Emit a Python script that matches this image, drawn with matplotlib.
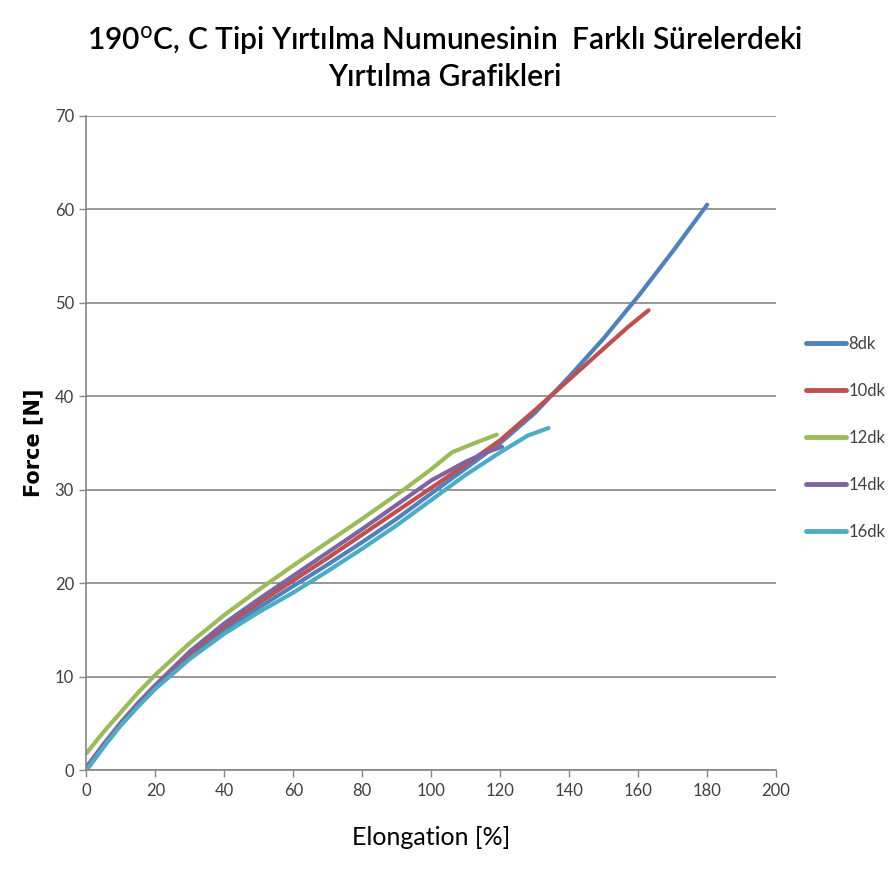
import matplotlib
matplotlib.use('Agg')
import matplotlib.pyplot as plt

# tear test curves, force vs elongation for each cure time
labels = ['8dk', '10dk', '12dk', '14dk', '16dk']
colors = ['#4F81BD', '#C0504D', '#9BBB59', '#8064A2', '#4BACC6']

x_8 = [0, 5, 10, 15, 20, 30, 40, 50, 60, 70, 80, 90, 100, 110, 120, 130, 140, 150, 160, 170, 180]
y_8 = [0, 2.5, 4.9, 7.0, 8.8, 12.2, 15.0, 17.4, 19.7, 22.0, 24.4, 26.9, 29.6, 32.3, 35.0, 38.2, 42.1, 46.2, 50.7, 55.5, 60.5]

x_10 = [0, 5, 10, 15, 20, 30, 40, 50, 60, 70, 80, 90, 100, 110, 120, 130, 140, 150, 157, 163]
y_10 = [0.3, 2.7, 5.0, 7.1, 9.0, 12.5, 15.4, 17.9, 20.3, 22.7, 25.2, 27.7, 30.2, 32.7, 35.3, 38.5, 41.8, 45.1, 47.4, 49.2]

x_12 = [0, 5, 10, 15, 20, 30, 40, 50, 60, 70, 80, 92, 100, 106, 112, 119]
y_12 = [1.8, 4.1, 6.2, 8.3, 10.2, 13.6, 16.6, 19.3, 21.9, 24.4, 26.9, 30.0, 32.2, 34.0, 34.9, 35.9]

x_14 = [0, 5, 10, 15, 20, 30, 40, 50, 60, 70, 80, 90, 100, 110, 116, 120.5]
y_14 = [0.3, 2.8, 5.1, 7.2, 9.1, 12.7, 15.7, 18.3, 20.8, 23.3, 25.8, 28.4, 31.0, 33.0, 34.0, 34.6]

x_16 = [0, 5, 10, 15, 20, 30, 40, 50, 60, 70, 80, 90, 100, 110, 120, 128, 134]
y_16 = [0, 2.5, 4.8, 6.8, 8.7, 11.9, 14.6, 16.9, 19.0, 21.3, 23.7, 26.2, 28.9, 31.6, 34.0, 35.8, 36.6]

series_x = [x_8, x_10, x_12, x_14, x_16]
series_y = [y_8, y_10, y_12, y_14, y_16]

font = 'Lato'

fig = plt.figure(figsize=(8.89, 8.90), dpi=100)
ax = fig.add_axes([0.0973, 0.1348, 0.7757, 0.7349])

for xs, ys, c, lab in zip(series_x, series_y, colors, labels):
    ax.plot(xs, ys, color=c, lw=3, label=lab, solid_capstyle='round', solid_joinstyle='round')

ax.set_xlim(0, 200)
ax.set_ylim(0, 70)
ax.set_xticks(range(0, 201, 20))
ax.set_yticks(range(0, 71, 10))
ax.yaxis.grid(True, color='#868686', lw=1.2)
ax.set_axisbelow(True)
for s in ['top', 'right']:
    ax.spines[s].set_visible(False)
for s in ['left', 'bottom']:
    ax.spines[s].set_color('#868686')
    ax.spines[s].set_linewidth(1.2)
ax.tick_params(colors='#868686', length=5, width=1, labelcolor='#404040',
               labelsize=12, pad=4)
for t in ax.get_xticklabels() + ax.get_yticklabels():
    t.set_family(font)

ax.set_xlabel('Elongation [%]', fontsize=18, family=font, labelpad=20)
ax.set_ylabel('Force [N]', fontsize=15, fontweight='bold', labelpad=8)

fig.text(0.5, 0.955, '190$^{\\rm o}$C, C Tipi Yırtılma Numunesinin  Farklı Sürelerdeki',
         ha='center', va='center', fontsize=21.5, family=font, fontweight='semibold')
fig.text(0.5, 0.913, 'Yırtılma Grafikleri', ha='center', va='center',
         fontsize=21.5, family=font, fontweight='semibold')

leg = ax.legend(loc='center left', bbox_to_anchor=(806 / 889, 0.508), bbox_transform=fig.transFigure,
                frameon=False, borderaxespad=0, borderpad=0, handlelength=2.4,
                handletextpad=0.15, labelspacing=1.85, prop={'family': font, 'size': 12})
for line in leg.get_lines():
    line.set_linewidth(3.5)
for t in leg.get_texts():
    t.set_color('#404040')

fig.savefig('out.png', dpi=100, facecolor='white')
